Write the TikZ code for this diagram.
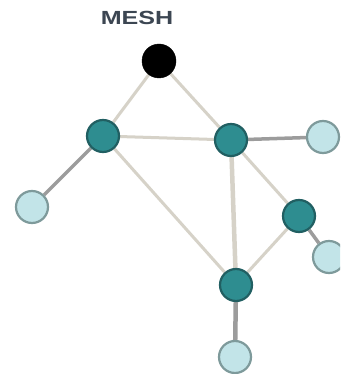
\documentclass[tikz,border=0pt]{standalone}
\usepackage{fontspec}
\setmainfont{Liberation Sans}
\usetikzlibrary{backgrounds}
\definecolor{tealfill}{HTML}{2E8D90}
\definecolor{tealedge}{HTML}{215F62}
\definecolor{lightfill}{HTML}{C2E4E8}
\definecolor{lightedge}{HTML}{7E9A9B}
\definecolor{paleline}{HTML}{D6D2C8}
\definecolor{darkline}{HTML}{9C9C9C}
\definecolor{txtcol}{HTML}{3C4652}
\begin{document}
\begin{tikzpicture}[x=1pt,y=-1pt,
  hub/.style={circle,draw=tealedge,fill=tealfill,line width=2.2pt,minimum size=32pt,inner sep=0pt},
  leaf/.style={circle,draw=lightedge,fill=lightfill,line width=2.2pt,minimum size=32pt,inner sep=0pt},
  root/.style={circle,fill=black,draw=black,minimum size=34pt,inner sep=0pt},
  pale/.style={draw=paleline,line width=3pt},
  darkl/.style={draw=darkline,line width=3.5pt}]
\clip (0,0) rectangle (340,374);
\useasboundingbox (0,0) rectangle (340,374);
\node[font=\bfseries\fontsize{19}{20}\selectfont,text=txtcol] (title) at (137,18) {\scalebox{1.32}[1]{MESH}};
\node[root] (r) at (159,61) {};
\node[hub] (a) at (103,136) {};
\node[hub] (b) at (231,140) {};
\node[hub] (c) at (299,216) {};
\node[hub] (d) at (236,285) {};
\node[leaf] (la) at (32,207) {};
\node[leaf] (lb) at (323,137) {};
\node[leaf] (lc) at (329,257) {};
\node[leaf] (ld) at (235,357) {};
\begin{scope}[on background layer]
\fill[white] (0,0) rectangle (340,374);
\draw[pale] (r) -- (a);
\draw[pale] (r) -- (b);
\draw[pale] (a) -- (b);
\draw[pale] (a) -- (d);
\draw[pale,line width=4.5pt] (b) -- (d);
\draw[pale] (b) -- (c);
\draw[pale] (c) -- (d);
\draw[darkl] (a) -- (la);
\draw[darkl] (b) -- (lb);
\draw[darkl] (c) -- (lc);
\draw[darkl,line width=4.5pt] (d) -- (ld);
\end{scope}
\end{tikzpicture}
\end{document}
